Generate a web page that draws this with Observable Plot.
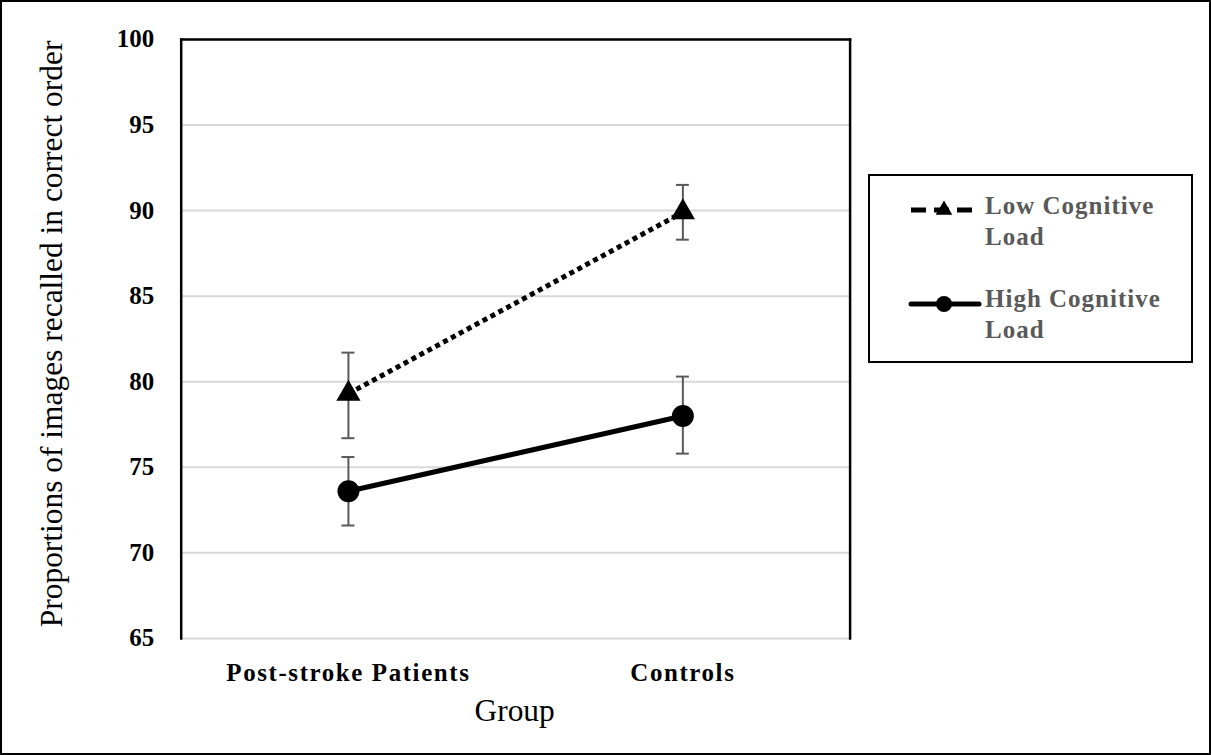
<!DOCTYPE html>
<html>
<head>
<meta charset="utf-8">
<script src="https://cdn.jsdelivr.net/npm/d3@7"></script>
<script src="https://cdn.jsdelivr.net/npm/@observablehq/plot@0.6"></script>
<style>
  html, body { margin: 0; padding: 0; background: #fff; }
  #wrap { position: relative; width: 1211px; height: 755px; box-sizing: border-box; border: 2px solid #000; overflow: hidden; }
  #chart { position: absolute; left: -2px; top: -2px; }
  #chart [aria-label="x-axis tick label"] text { letter-spacing: 1.6px; }
  #legend { position: absolute; left: 866px; top: 172px; width: 325px; height: 189px; box-sizing: border-box; border: 2px solid #000; background: #fff;
    font-family: "Liberation Serif", "Times New Roman", serif; font-weight: bold; font-size: 25px; letter-spacing: 1px; color: #595959; }
  .sample { position: absolute; left: 38px; }
  .label { position: absolute; left: 115px; line-height: 31px; white-space: nowrap; }
</style>
</head>
<body>
<div id="wrap">
  <div id="chart"></div>
  <div id="legend"></div>
</div>
<script>
const groups = ["Post-stroke Patients", "Controls"];
const series = ["Low Cognitive Load", "High Cognitive Load"];
const lowMeans = [79.3, 89.9];
const lowUpper = [81.7, 91.5];
const lowLower = [76.7, 88.3];
const highMeans = [73.6, 78.0];
const highUpper = [75.6, 80.3];
const highLower = [71.6, 75.8];
const yTicks = [65, 70, 75, 80, 85, 90, 95, 100];
const yTitle = "Proportions of images recalled in correct order";
const xTitle = "Group";

const rows = [];
groups.forEach((g, i) => {
  rows.push({group: g, series: series[0], mean: lowMeans[i], lo: lowLower[i], hi: lowUpper[i]});
  rows.push({group: g, series: series[1], mean: highMeans[i], lo: highLower[i], hi: highUpper[i]});
});
const low = rows.filter(d => d.series === series[0]);
const high = rows.filter(d => d.series === series[1]);

const serif = "'Liberation Serif', 'Times New Roman', serif";
const errColor = "#595959";

const plot = Plot.plot({
  width: 1211,
  height: 755,
  marginLeft: 181,
  marginRight: 360,
  marginTop: 39,
  marginBottom: 116,
  style: {fontFamily: serif, background: "transparent"},
  x: {type: "band", domain: groups, padding: 0, label: null},
  y: {domain: [65, 100], ticks: yTicks, label: null},
  marks: [
    Plot.ruleY(yTicks, {stroke: "#d9d9d9", strokeWidth: 2}),
    Plot.frame({anchor: "left", stroke: "#000", strokeWidth: 2.5}),
    Plot.frame({anchor: "top", stroke: "#000", strokeWidth: 2.5}),
    Plot.frame({anchor: "right", stroke: "#000", strokeWidth: 2.5}),
    Plot.axisY({ticks: yTicks, tickSize: 0, tickPadding: 27, fontSize: 25, fontWeight: "bold", fill: "#000", label: null}),
    Plot.axisX({tickSize: 0, tickPadding: 25, fontSize: 25, fontWeight: "bold", fill: "#000", label: null}),
    Plot.ruleX(rows, {x: "group", y1: "lo", y2: "hi", stroke: errColor, strokeWidth: 2}),
    Plot.tickY(rows, {x: "group", y: "hi", stroke: errColor, strokeWidth: 2, insetLeft: 161, insetRight: 161}),
    Plot.tickY(rows, {x: "group", y: "lo", stroke: errColor, strokeWidth: 2, insetLeft: 161, insetRight: 161}),
    Plot.line(low, {x: "group", y: "mean", stroke: "#000", strokeWidth: 5, strokeDasharray: "5,4", strokeLinecap: "butt"}),
    Plot.line(high, {x: "group", y: "mean", stroke: "#000", strokeWidth: 5}),
    Plot.dot(low, {x: "group", y: "mean", symbol: "triangle", r: 9, fill: "#000", stroke: "none"}),
    Plot.dot(high, {x: "group", y: "mean", symbol: "circle", r: 11, fill: "#000", stroke: "none"}),
    Plot.text([yTitle], {frameAnchor: "left", textAnchor: "middle", lineAnchor: "middle", dx: -129, dy: -5, rotate: -90, fontSize: 31.5, fill: "#000", text: d => d}),
    Plot.text([xTitle], {frameAnchor: "bottom", textAnchor: "middle", lineAnchor: "middle", dx: -1, dy: 73, fontSize: 31.5, fill: "#000", text: d => d})
  ]
});
document.getElementById("chart").appendChild(plot);

// Legend
const legend = document.getElementById("legend");
const items = [
  {name: series[0], lineY: 34, textTop: 14, dash: "15,8", symbol: "tri"},
  {name: series[1], lineY: 128, textTop: 107, dash: null, symbol: "circ"}
];
items.forEach(it => {
  const words = it.name.split(" ");
  const line1 = words.slice(0, 2).join(" ");
  const line2 = words.slice(2).join(" ");
  const s = d3.create("svg").attr("class", "sample").attr("width", 74).attr("height", 24)
    .style("top", (it.lineY - 12) + "px");
  s.append("line").attr("x1", 3).attr("x2", 71).attr("y1", 12).attr("y2", 12)
    .attr("stroke", "#000").attr("stroke-width", 5)
    .attr("stroke-dasharray", it.dash).attr("stroke-linecap", it.dash ? "butt" : "round");
  if (it.symbol === "tri") {
    s.append("path").attr("d", d3.symbol(d3.symbolTriangle, 120)()).attr("transform", "translate(36,12)").attr("fill", "#000");
  } else {
    s.append("circle").attr("cx", 36).attr("cy", 12).attr("r", 8).attr("fill", "#000");
  }
  legend.appendChild(s.node());
  const div = document.createElement("div");
  div.className = "label";
  div.style.top = it.textTop + "px";
  div.innerHTML = line1 + "<br>" + line2;
  legend.appendChild(div);
});
</script>
</body>
</html>
